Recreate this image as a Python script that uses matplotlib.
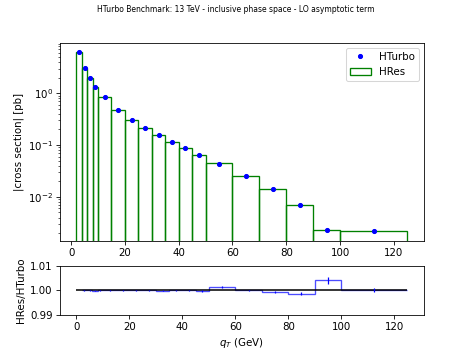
import numpy as np
import matplotlib
matplotlib.use("Agg")
import matplotlib.pyplot as plt
from matplotlib.gridspec import GridSpec

# bin edges in qT (GeV)
edges = np.array([2, 4, 6, 8, 10, 15, 20, 25, 30, 35, 40, 45, 50,
                  60, 70, 80, 90, 100, 125])

# |cross section| per bin [pb]
hturbo = np.array([6.2, 3.1, 1.95, 1.33, 0.84, 0.485, 0.31, 0.215, 0.155,
                   0.114, 0.086, 0.065, 0.044, 0.0253, 0.0143, 0.0069,
                   0.00228, 0.00218])
hres = np.array([6.2, 3.1, 1.95, 1.33, 0.84, 0.485, 0.31, 0.215, 0.155,
                 0.114, 0.086, 0.065, 0.0441, 0.0253, 0.0143, 0.0069,
                 0.00229, 0.00218])

# HRes/HTurbo ratio and its uncertainty
ratio = np.array([1.0000, 1.0000, 0.9999, 1.0000, 1.0000, 1.0000, 1.0000,
                  1.0000, 0.9998, 1.0000, 1.0000, 0.9998, 1.0012, 1.0000,
                  0.9993, 0.9986, 1.0041, 1.0003])
ratio_err = np.array([0.0001, 0.0001, 0.0002, 0.0001, 0.0001, 0.0002,
                      0.0002, 0.0001, 0.0002, 0.0001, 0.0001, 0.0003,
                      0.0004, 0.0002, 0.0003, 0.0006, 0.0014, 0.0008])

centers = 0.5 * (edges[:-1] + edges[1:])
widths = np.diff(edges)

fig = plt.figure(figsize=(6.4, 4.8), dpi=73.75)
gs = GridSpec(2, 1, height_ratios=[4, 1], hspace=0.2, figure=fig,
              left=0.127, right=0.898, top=0.879, bottom=0.11)
ax = fig.add_subplot(gs[0])
axr = fig.add_subplot(gs[1])

fig.suptitle("HTurbo Benchmark: 13 TeV - inclusive phase space - LO asymptotic term",
             fontsize=7.5, y=0.985)

ax.bar(edges[:-1], hres, width=widths, align='edge', fill=False,
       edgecolor='green', linewidth=1.3, label='HRes')
ax.plot(centers, hturbo, 'o', color='blue', markersize=4, label='HTurbo')
ax.set_yscale('log')
ax.set_ylim(1.42e-3, 9.4)
ax.set_xlim(edges[0] - 0.05 * (edges[-1] - edges[0]),
            edges[-1] + 0.05 * (edges[-1] - edges[0]))
ax.set_ylabel("|cross section| [pb]")
ax.legend(loc='upper right')

axr.hlines(1.0, 0, edges[-1], color='black', linewidth=1.5)
axr.stairs(ratio, edges, baseline=None, color='blue', alpha=0.7, linewidth=1.3)
axr.errorbar(centers, ratio, yerr=ratio_err, fmt='none', ecolor='blue',
             elinewidth=1.2)
axr.set_ylim(0.99, 1.01)
axr.set_yticks([0.99, 1.00, 1.01])
axr.set_yticklabels(["0.99", "1.00", "1.01"])
axr.set_xlim(-0.05 * edges[-1], 1.05 * edges[-1])
axr.set_xlabel("$q_T$ (GeV)")
axr.set_ylabel("HRes/HTurbo")

fig.savefig("out.png", dpi=73.75)
